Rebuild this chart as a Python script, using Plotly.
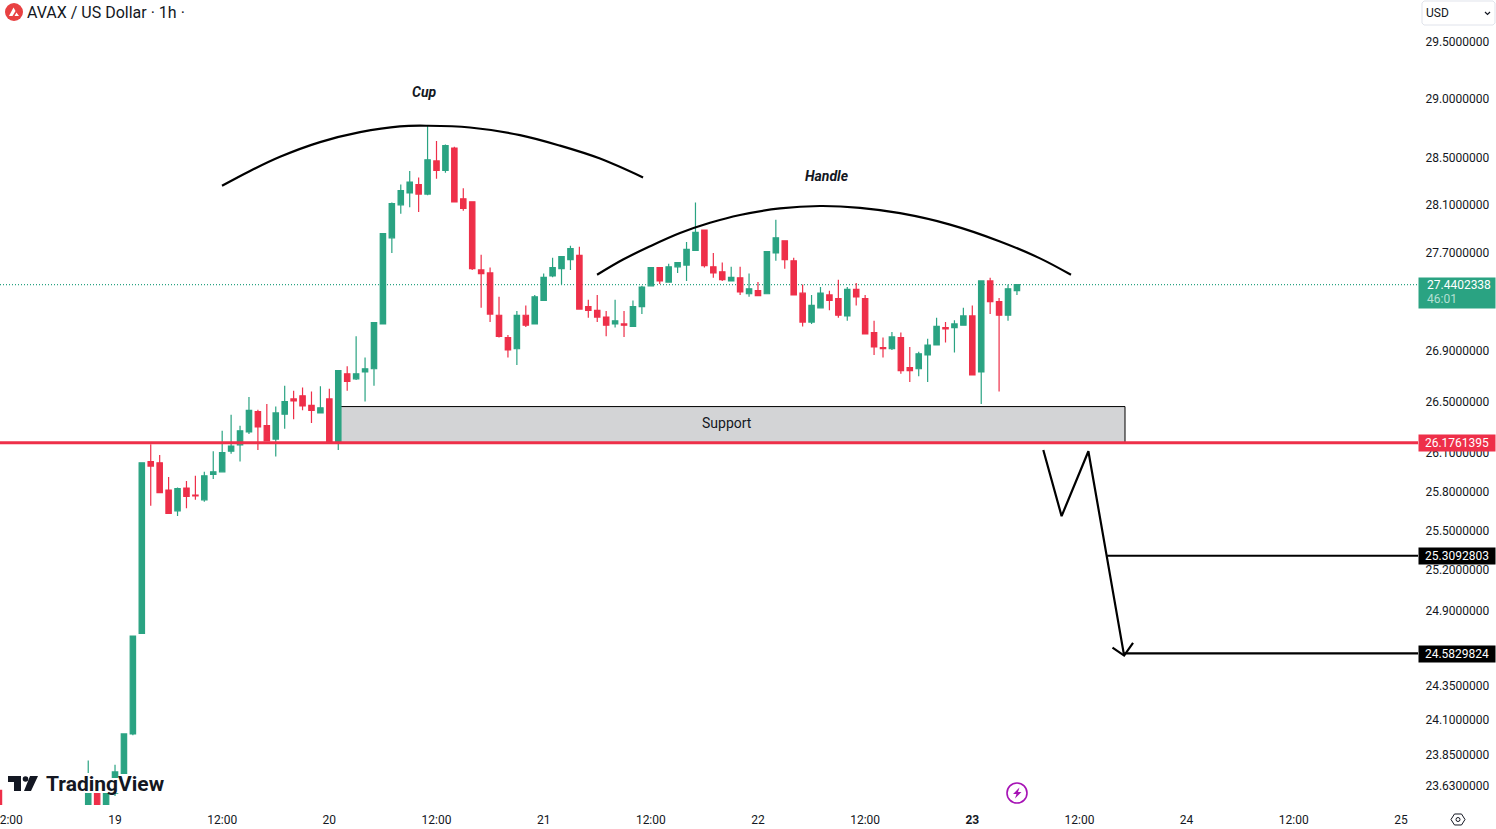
import math
import plotly.graph_objects as go

# ---- data -----------------------------------------------------------------
hours = [-13] + list(range(-3, 102))
opens = [23.60, 23.40, 23.68, 23.45, 23.58, 23.72, 24.00, 24.73, 26.03, 26.02,
         25.81, 25.65, 25.825, 25.77, 25.735, 25.93, 25.95, 26.11, 26.16, 26.26,
         26.42, 26.31, 26.205, 26.40, 26.52, 26.545, 26.47, 26.41, 26.52, 26.175,
         26.72, 26.68, 26.735, 26.76, 27.12, 27.825, 28.10, 28.20, 28.27, 28.19,
         28.47, 28.39, 28.58, 28.15, 28.125, 27.56, 27.535, 27.19, 27.01, 26.92,
         27.19, 27.12, 27.31, 27.51, 27.57, 27.645, 27.68, 27.26, 27.23, 27.175,
         27.12, 27.12, 27.10, 27.26, 27.43, 27.58, 27.46, 27.585, 27.60, 27.72,
         27.89, 27.585, 27.545, 27.47, 27.495, 27.365, 27.39, 27.365, 27.70, 27.80,
         27.635, 27.37, 27.135, 27.25, 27.355, 27.325, 27.185, 27.40, 27.325, 27.05,
         26.93, 26.92, 27.01, 26.77, 26.76, 26.87, 26.95, 27.09, 27.09, 27.11,
         27.185, 26.735, 27.47, 27.30, 27.19, 27.39]
highs = [23.60, 23.81, 23.70, 23.60, 23.78, 24.00, 24.71, 26.02, 26.165, 26.08,
         25.91, 25.83, 25.88, 25.92, 25.95, 26.11, 26.27, 26.395, 26.31, 26.535,
         26.435, 26.48, 26.46, 26.625, 26.585, 26.61, 26.58, 26.62, 26.60, 26.745,
         26.78, 27.02, 26.85, 27.13, 27.86, 28.12, 28.27, 28.385, 28.33, 28.77,
         28.64, 28.61, 28.59, 28.24, 28.125, 27.685, 27.58, 27.34, 27.03, 27.225,
         27.27, 27.355, 27.53, 27.66, 27.67, 27.76, 27.75, 27.315, 27.355, 27.225,
         27.315, 27.225, 27.31, 27.43, 27.58, 27.58, 27.61, 27.62, 27.79, 28.12,
         27.89, 27.70, 27.62, 27.585, 27.585, 27.53, 27.46, 27.71, 27.975, 27.80,
         27.66, 27.44, 27.355, 27.42, 27.39, 27.48, 27.42, 27.452, 27.355, 27.145,
         27.01, 27.055, 27.05, 26.935, 26.895, 27.00, 27.17, 27.135, 27.15, 27.25,
         27.27, 27.47, 27.495, 27.33, 27.44, 27.44]
lows = [23.30, 23.38, 23.42, 23.42, 23.56, 23.72, 23.99, 24.73, 25.69, 25.79,
        25.63, 25.61, 25.67, 25.735, 25.72, 25.895, 25.95, 26.09, 26.03, 26.245,
        26.12, 26.19, 26.07, 26.285, 26.36, 26.43, 26.33, 26.41, 26.175, 26.12,
        26.585, 26.67, 26.50, 26.625, 27.12, 27.70, 28.025, 28.08, 28.04, 28.18,
        28.32, 28.37, 28.125, 28.05, 27.56, 27.25, 27.135, 27.01, 26.85, 26.79,
        27.095, 27.12, 27.31, 27.50, 27.44, 27.56, 27.24, 27.17, 27.135, 27.02,
        27.09, 27.015, 27.10, 27.20, 27.43, 27.445, 27.46, 27.535, 27.47, 27.72,
        27.58, 27.495, 27.47, 27.47, 27.355, 27.34, 27.35, 27.365, 27.635, 27.57,
        27.35, 27.10, 27.12, 27.25, 27.23, 27.17, 27.145, 27.27, 27.04, 26.87,
        26.85, 26.91, 26.72, 26.655, 26.70, 26.655, 26.95, 26.97, 26.89, 27.11,
        26.71, 26.48, 27.20, 26.58, 27.145, 27.355]
closes = [23.35, 23.68, 23.45, 23.59, 23.73, 24.00, 24.71, 26.02, 25.995, 25.79,
          25.63, 25.82, 25.76, 25.765, 25.92, 25.95, 26.10, 26.15, 26.27, 26.43,
          26.30, 26.19, 26.41, 26.50, 26.505, 26.465, 26.43, 26.45, 26.175, 26.745,
          26.66, 26.72, 26.76, 27.13, 27.86, 28.11, 28.22, 28.29, 28.19, 28.48,
          28.39, 28.60, 28.125, 28.07, 27.57, 27.53, 27.20, 27.02, 26.91, 27.19,
          27.11, 27.34, 27.50, 27.58, 27.67, 27.735, 27.24, 27.23, 27.175, 27.11,
          27.145, 27.11, 27.26, 27.42, 27.58, 27.47, 27.585, 27.62, 27.73, 27.87,
          27.595, 27.535, 27.48, 27.50, 27.38, 27.405, 27.35, 27.71, 27.825, 27.645,
          27.355, 27.135, 27.27, 27.37, 27.31, 27.19, 27.40, 27.34, 27.04, 26.935,
          26.92, 27.015, 26.745, 26.745, 26.88, 26.95, 27.10, 27.08, 27.12, 27.185,
          26.71, 27.47, 27.30, 27.19, 27.405, 27.44]

cup_h = [11.98, 15.12, 18.48, 22.96, 27.44, 31.9, 35.05, 39.75, 45.35, 49.83, 54.31, 59.13]
cup_p = [28.26, 28.385, 28.505, 28.63, 28.715, 28.765, 28.77, 28.755, 28.69, 28.60, 28.49, 28.33]
handle_h = [53.98, 56.89, 59.91, 63.27, 66.63, 69.99, 74.47, 78.95, 83.43, 87.91, 93.51, 99.1, 103.58, 107.05]
handle_p = [27.52, 27.645, 27.755, 27.865, 27.95, 28.015, 28.07, 28.09, 28.075, 28.03, 27.935, 27.795, 27.655, 27.52]
path_h = [103.95, 106.0, 109.0, 113.0]
path_p = [26.12, 25.61, 26.11, 24.567]
head_h = [111.7, 113.0, 114.0]
head_p = [24.625, 24.567, 24.66]

support_price = 26.1761395
support_top = 26.46
support_left, support_right = 25.0, 113.1
last_price = 27.4402338
target1 = 25.3092803
target2 = 24.5829824
target1_start, target2_start = 111.1, 113.0

y_ticks = [29.5, 29.0, 28.5, 28.1, 27.7, 26.9, 26.5, 26.1, 25.8, 25.5, 25.2, 24.9, 24.35, 24.1, 23.85, 23.63]
x_ticks = [-12, 0, 12, 24, 36, 48, 60, 72, 84, 96, 108, 120, 132, 144]
x_labels = ["12:00", "19", "12:00", "20", "12:00", "21", "12:00", "22", "12:00", "<b>23</b>", "12:00", "24", "12:00", "25"]

GREEN = "#2aa382"
RED = "#ee2f49"
INK = "#131722"
W, H = 1496, 829
PW, PH = 1418, 805
SHIFT = 0.00013


def px(v):
    return v / PW


def py(v):
    return (PH - v) / PH


def poly(points):
    return "M " + " L ".join(f"{px(a):.5f},{py(b):.5f}" for a, b in points) + " Z"


fig = go.Figure()
fig.add_trace(go.Candlestick(
    x=hours, open=opens, high=highs, low=lows, close=closes,
    increasing=dict(line=dict(color=GREEN, width=1.2), fillcolor=GREEN),
    decreasing=dict(line=dict(color=RED, width=1.2), fillcolor=RED),
    whiskerwidth=0, hoverinfo="skip", showlegend=False))

xmin, xmax = -12.88, 145.91


def line(xs, ys, color="#000000", width=2.2, shape="linear"):
    fig.add_trace(go.Scatter(x=xs, y=ys, mode="lines", hoverinfo="skip", showlegend=False,
                             line=dict(color=color, width=width, shape=shape, smoothing=1.0)))


line(cup_h, cup_p, shape="spline")
line(handle_h, handle_p, shape="spline")
line(path_h, path_p)
line(head_h, head_p)
line([target1_start, xmax], [target1, target1])
line([target2_start, xmax], [target2, target2])
line([xmin, xmax], [support_price, support_price], color=RED, width=3)

shapes = [
    dict(type="rect", xref="x", yref="y", x0=support_left, x1=support_right,
         y0=support_price, y1=support_top, fillcolor="#d3d4d6",
         line=dict(color="#000000", width=1), layer="below"),
    dict(type="line", xref="paper", yref="y", x0=0, x1=1, y0=last_price, y1=last_price,
         line=dict(color=GREEN, width=1.2, dash="1px,2px"), layer="below"),
    # logo halo over the candles
    dict(type="rect", xref="paper", yref="paper", x0=px(84), x1=px(111), y0=py(793), y1=py(773),
         fillcolor="white", line=dict(width=0), layer="above"),
    dict(type="rect", xref="paper", yref="paper", x0=px(111), x1=px(120), y0=py(793), y1=py(778),
         fillcolor="white", line=dict(width=0), layer="above"),
    # TradingView mark
    dict(type="path", xref="paper", yref="paper",
         path=poly([(8, 776), (21, 776), (21, 791), (14, 791), (14, 782), (8, 782)]),
         fillcolor=INK, line=dict(width=0), layer="above"),
    dict(type="circle", xref="paper", yref="paper", x0=px(22.7), x1=px(28.3), y0=py(781.8), y1=py(776.2),
         fillcolor=INK, line=dict(width=0), layer="above"),
    dict(type="path", xref="paper", yref="paper",
         path=poly([(30, 776), (38, 776), (31, 791), (24, 791)]),
         fillcolor=INK, line=dict(width=0), layer="above"),
    # AVAX icon
    dict(type="circle", xref="paper", yref="paper", x0=px(5), x1=px(23), y0=py(21), y1=py(3),
         fillcolor="#e84142", line=dict(width=0), layer="above"),
    dict(type="path", xref="paper", yref="paper",
         path=poly([(13.5, 7.5), (15.5, 11), (12.5, 16), (9, 16)]),
         fillcolor="white", line=dict(width=0), layer="above"),
    dict(type="path", xref="paper", yref="paper",
         path=poly([(16.5, 12.5), (19, 16), (14.5, 16)]),
         fillcolor="white", line=dict(width=0), layer="above"),
    # currency button
    dict(type="path", xref="paper", yref="paper",
         path=poly([(1424, 1), (1493, 1), (1495, 3), (1495, 23), (1493, 25), (1424, 25), (1422, 23), (1422, 3)]),
         fillcolor="white", line=dict(color="#e0e3eb", width=1), layer="above"),
    dict(type="path", xref="paper", yref="paper",
         path=f"M {px(1485):.5f},{py(12):.5f} L {px(1487.5):.5f},{py(14.5):.5f} L {px(1490):.5f},{py(12):.5f}",
         line=dict(color=INK, width=1.2), layer="above"),
    # lightning badge
    dict(type="circle", xref="paper", yref="paper", x0=px(1007), x1=px(1027), y0=py(803), y1=py(783),
         fillcolor="white", line=dict(color="#a612b5", width=1.6), layer="above"),
    dict(type="path", xref="paper", yref="paper",
         path=poly([(1019.5, 787.5), (1013, 794), (1016.5, 794), (1015, 798.5), (1021.5, 792), (1018, 792)]),
         fillcolor="#a612b5", line=dict(width=0), layer="above"),
    # settings hexagon
    dict(type="path", xref="paper", yref="paper",
         path=poly([(1451, 819.5), (1454.5, 814), (1461.5, 814), (1465, 819.5), (1461.5, 825), (1454.5, 825)]),
         fillcolor="white", line=dict(color=INK, width=1), layer="above"),
    dict(type="circle", xref="paper", yref="paper", x0=px(1456), x1=px(1460), y0=py(821.5), y1=py(817.5),
         fillcolor="white", line=dict(color=INK, width=1), layer="above"),
]


def note(text, x, y, size=14, color=INK, anchor="center", family="Roboto"):
    return dict(text=text, xref="paper", yref="paper", x=px(x), y=py(y), xanchor=anchor, yanchor="middle",
                showarrow=False, font=dict(family=family, size=size, color=color))


def tag(text, price, bg, yshift=0, height=15.5):
    return dict(text=text, xref="paper", yref="y", x=1, y=math.log10(price), xanchor="left", yanchor="middle",
                yshift=yshift, showarrow=False, bgcolor=bg, borderpad=0, width=76, height=height,
                align="center", font=dict(family="Roboto", size=12, color="white"))


annotations = [
    note("<b><i>Cup</i></b>", 424, 92),
    note("<b><i>Handle</i></b>", 826.5, 176),
    note("Support", 727, 423),
    note("AVAX / US Dollar · 1h ·", 25, 13, size=16, anchor="left"),
    note("USD", 1424, 13, size=12, anchor="left"),
    note("<b>TradingView</b>", 44, 784, size=21, anchor="left"),
    tag(f"{support_price:.7f}", support_price, RED, yshift=-0.5),
    tag(f"{target1:.7f}", target1, "#000000", yshift=-0.5),
    tag(f"{target2:.7f}", target2, "#000000", yshift=-0.5),
    tag("&nbsp;", last_price, GREEN, yshift=-8, height=30),
    note(f"{last_price:.7f}", 1425, 285, size=12, color="white", anchor="left"),
    note("46:01", 1425, 298.5, size=12, color="#b5e0d4", anchor="left"),
]

fig.update_layout(
    width=W, height=H, autosize=False, paper_bgcolor="white", plot_bgcolor="white",
    margin=dict(l=0, r=W - PW, t=0, b=H - PH, autoexpand=False), showlegend=False, shapes=shapes,
    annotations=annotations,
    font=dict(family="Roboto", size=12, color=INK), boxgap=0.14, hovermode=False,
    xaxis=dict(type="linear", range=[xmin, xmax], showgrid=False, zeroline=False, showline=False,
               tickmode="array", tickvals=x_ticks, ticktext=x_labels, ticks="outside", ticklen=4,
               tickcolor="rgba(0,0,0,0)", tickfont=dict(family="Roboto", size=12, color=INK),
               ticklabeloverflow="allow", rangeslider=dict(visible=False)),
    yaxis=dict(type="log", side="right", range=[math.log10(23.49) + SHIFT, math.log10(29.86) + SHIFT], showgrid=False,
               zeroline=False, showline=False, tickmode="array", tickvals=y_ticks,
               ticktext=[f"{v:.7f}" for v in y_ticks], ticks="outside", ticklen=4,
               tickcolor="rgba(0,0,0,0)", tickfont=dict(family="Roboto", size=12, color=INK)),
)

fig.write_html("out.html", config=dict(displayModeBar=False),
               post_script="document.body.style.margin='0';document.documentElement.style.overflow='hidden';")
